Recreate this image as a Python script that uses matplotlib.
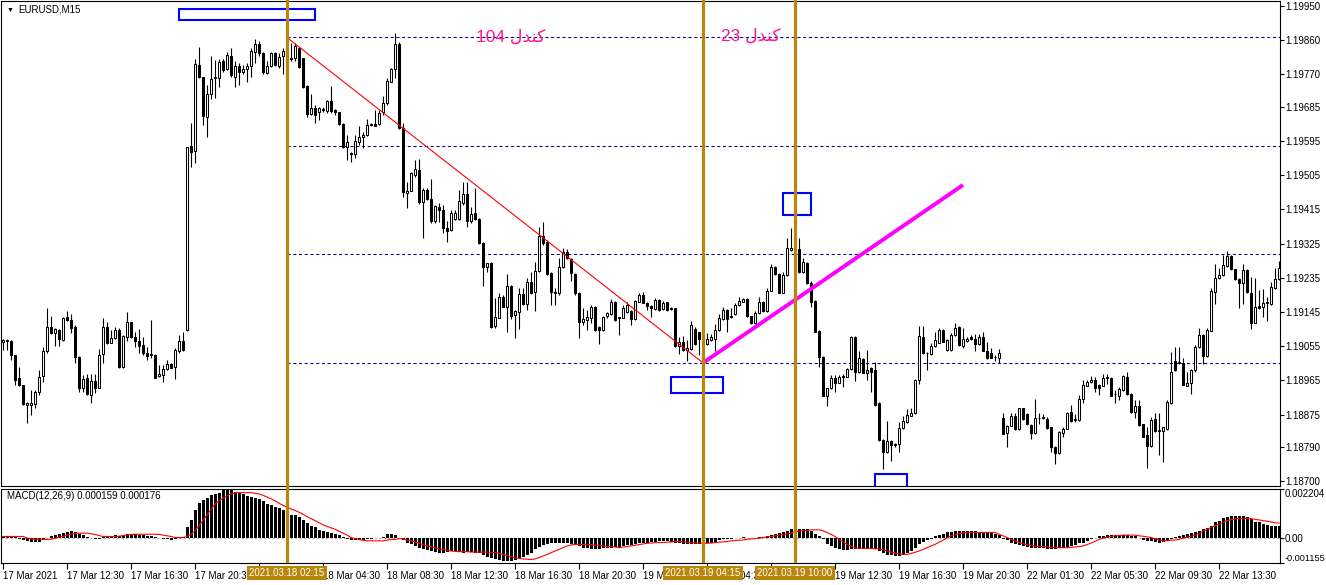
import matplotlib
matplotlib.use("Agg")
import matplotlib.pyplot as plt
import matplotlib.transforms as mtransforms
from matplotlib.patches import Rectangle
import numpy as np

plt.rcParams['font.family'] = ['Liberation Sans', 'DejaVu Sans']

POINT = 1e-5  # prices and MACD values below are stored in points

# EURUSD M15, one value per bar (17 Mar 08:30 .. 22 Mar 17:15)
opens = [
    119067, 119069, 119069, 119032, 118972, 118954, 118900, 118899, 118902, 118933,
    118977, 119041, 119105, 119089, 119098, 119071, 119131, 119125, 119105, 119027,
    118944, 118970, 118927, 118963, 118946, 119034, 119105, 119064, 119076, 119098,
    119000, 119080, 119118, 119080, 119069, 119058, 119038, 119034, 119032, 118976,
    118979, 118995, 119008, 118999, 119043, 119069, 119098, 119581, 119569, 119795,
    119762, 119659, 119718, 119760, 119760, 119804, 119783, 119818, 119762, 119791,
    119777, 119783, 119791, 119828, 119849, 119826, 119773, 119792, 119826, 119793,
    119817, 119832, 119812, 119812, 119840, 119812, 119740, 119667, 119681, 119670,
    119676, 119674, 119700, 119676, 119670, 119639, 119580, 119561, 119560, 119593,
    119604, 119611, 119637, 119640, 119639, 119670, 119694, 119751, 119783, 119849,
    119628, 119457, 119464, 119504, 119519, 119435, 119466, 119442, 119383, 119422,
    119413, 119367, 119361, 119390, 119390, 119431, 119454, 119383, 119404, 119390,
    119327, 119264, 119273, 119108, 119130, 119185, 119159, 119212, 119137, 119144,
    119191, 119166, 119225, 119197, 119253, 119345, 119330, 119247, 119198, 119194,
    119262, 119302, 119283, 119244, 119196, 119119, 119124, 119128, 119157, 119106,
    119098, 119133, 119139, 119172, 119128, 119130, 119144, 119148, 119126, 119172,
    119190, 119168, 119160, 119152, 119176, 119152, 119170, 119152, 119154, 119056,
    119065, 119045, 119047, 119101, 119091, 119074, 119061, 119071, 119073, 119098,
    119127, 119150, 119131, 119139, 119162, 119172, 119178, 119133, 119115, 119141,
    119172, 119148, 119201, 119262, 119245, 119196, 119242, 119308, 119312, 119310,
    119249, 119273, 119220, 119174, 119095, 119027, 118925, 118944, 118970, 118959,
    118975, 118975, 118994, 119080, 118986, 119020, 118985, 118997, 118992, 118906,
    118808, 118776, 118806, 118795, 118797, 118839, 118855, 118872, 118878, 118966,
    119078, 119036, 119034, 119055, 119064, 119098, 119045, 119045, 119084, 119105,
    119055, 119069, 119078, 119074, 119060, 119080, 119043, 119036, 119027, 119025,
    118867, 118827, 118846, 118871, 118836, 118891, 118876, 118847, 118827, 118865,
    118865, 118862, 118841, 118789, 118773, 118827, 118838, 118881, 118860, 118860,
    118917, 118951, 118961, 118967, 118953, 118951, 118970, 118972, 118929, 118925,
    118939, 118975, 118929, 118882, 118898, 118849, 118821, 118792, 118863, 118832,
    118832, 118836, 118906, 119016, 119010, 119011, 118951, 118957, 118992, 119052,
    119084, 119029, 119096, 119198, 119233, 119242, 119266, 119291, 119257, 119231,
    119220, 119255, 119194, 119117, 119161, 119157, 119168, 119166, 119207, 119231,
]
highs = [
    119074, 119074, 119071, 119032, 119001, 118954, 118908, 118940, 118940, 118992,
    119054, 119156, 119133, 119102, 119100, 119132, 119148, 119139, 119111, 119029,
    118979, 118981, 118981, 118981, 119048, 119130, 119118, 119098, 119106, 119104,
    119084, 119144, 119119, 119091, 119100, 119080, 119054, 119124, 119034, 119005,
    119005, 119019, 119010, 119051, 119084, 119093, 119580, 119641, 119810, 119841,
    119764, 119742, 119817, 119808, 119811, 119811, 119828, 119840, 119804, 119799,
    119795, 119799, 119840, 119863, 119859, 119828, 119805, 119830, 119830, 119825,
    119840, 119868, 119852, 119852, 119843, 119814, 119742, 119718, 119690, 119683,
    119683, 119703, 119740, 119680, 119672, 119641, 119611, 119566, 119611, 119633,
    119619, 119652, 119641, 119676, 119676, 119713, 119760, 119788, 119878, 119855,
    119641, 119488, 119514, 119545, 119547, 119470, 119472, 119495, 119426, 119431,
    119426, 119383, 119413, 119413, 119466, 119488, 119488, 119422, 119470, 119392,
    119330, 119275, 119276, 119181, 119194, 119190, 119244, 119215, 119150, 119207,
    119207, 119233, 119251, 119276, 119369, 119381, 119333, 119250, 119207, 119286,
    119312, 119311, 119286, 119247, 119198, 119155, 119150, 119163, 119160, 119108,
    119133, 119145, 119179, 119175, 119132, 119163, 119172, 119150, 119176, 119194,
    119198, 119170, 119162, 119181, 119178, 119174, 119172, 119158, 119156, 119080,
    119082, 119071, 119121, 119106, 119093, 119080, 119089, 119087, 119113, 119140,
    119157, 119152, 119156, 119168, 119183, 119181, 119181, 119135, 119148, 119183,
    119174, 119207, 119271, 119265, 119247, 119251, 119339, 119365, 119335, 119339,
    119286, 119276, 119227, 119176, 119097, 119029, 118946, 118979, 118979, 118979,
    118981, 118997, 119082, 119082, 119041, 119023, 119045, 119000, 119014, 118908,
    118810, 118858, 118808, 118800, 118856, 118870, 118890, 118891, 118968, 119108,
    119108, 119040, 119064, 119093, 119104, 119100, 119073, 119089, 119115, 119108,
    119102, 119078, 119084, 119088, 119088, 119091, 119065, 119049, 119031, 119047,
    118878, 118848, 118878, 118878, 118893, 118893, 118878, 118849, 118915, 118880,
    118876, 118869, 118843, 118791, 118832, 118843, 118882, 118900, 118876, 118926,
    118966, 118966, 118976, 118975, 118955, 118981, 118981, 118975, 118939, 118948,
    118979, 118988, 118931, 118913, 118913, 118851, 118843, 118869, 118878, 118878,
    118843, 118913, 119040, 119052, 119052, 119023, 118988, 118996, 119058, 119102,
    119086, 119102, 119207, 119271, 119260, 119295, 119304, 119295, 119259, 119233,
    119271, 119258, 119238, 119233, 119203, 119205, 119185, 119225, 119260, 119280,
]
lows = [
    119045, 119045, 119019, 118953, 118951, 118900, 118854, 118874, 118891, 118927,
    118960, 119036, 119086, 119056, 119056, 119069, 119121, 119089, 119010, 118934,
    118935, 118927, 118905, 118931, 118944, 119010, 119060, 119062, 119074, 118998,
    118998, 119069, 119077, 119054, 119036, 119032, 119019, 119023, 118970, 118974,
    118960, 118992, 118997, 118969, 119036, 119042, 119095, 119525, 119536, 119760,
    119637, 119604, 119705, 119707, 119738, 119777, 119782, 119764, 119738, 119742,
    119770, 119749, 119762, 119799, 119819, 119770, 119770, 119790, 119792, 119786,
    119771, 119825, 119804, 119805, 119786, 119733, 119659, 119663, 119643, 119650,
    119670, 119668, 119668, 119663, 119637, 119577, 119545, 119540, 119549, 119583,
    119577, 119609, 119635, 119633, 119637, 119663, 119690, 119749, 119760, 119626,
    119448, 119419, 119462, 119500, 119430, 119340, 119440, 119378, 119380, 119381,
    119352, 119330, 119358, 119388, 119388, 119426, 119369, 119380, 119388, 119325,
    119212, 119249, 119102, 119104, 119128, 119157, 119093, 119126, 119076, 119100,
    119163, 119150, 119192, 119148, 119250, 119322, 119242, 119162, 119163, 119190,
    119260, 119283, 119226, 119190, 119077, 119111, 119098, 119115, 119095, 119060,
    119096, 119130, 119137, 119121, 119084, 119128, 119142, 119111, 119124, 119170,
    119168, 119150, 119131, 119150, 119148, 119150, 119148, 119150, 119054, 119034,
    119043, 119017, 119045, 119059, 119032, 119013, 119058, 119068, 119041, 119096,
    119125, 119093, 119129, 119137, 119160, 119170, 119131, 119113, 119113, 119139,
    119146, 119146, 119199, 119243, 119194, 119194, 119240, 119305, 119290, 119247,
    119247, 119218, 119157, 119091, 119001, 118923, 118898, 118942, 118933, 118957,
    118948, 118973, 118992, 118963, 118984, 118983, 118966, 118934, 118897, 118806,
    118731, 118774, 118754, 118790, 118776, 118837, 118853, 118870, 118876, 118956,
    119034, 118992, 119032, 119053, 119062, 119065, 119041, 119043, 119082, 119056,
    119049, 119066, 119070, 119043, 119058, 119041, 119021, 119023, 119017, 119010,
    118823, 118789, 118844, 118834, 118834, 118861, 118847, 118810, 118825, 118850,
    118863, 118838, 118777, 118745, 118771, 118817, 118836, 118856, 118856, 118858,
    118906, 118949, 118959, 118933, 118926, 118949, 118955, 118923, 118906, 118913,
    118937, 118926, 118879, 118867, 118845, 118815, 118735, 118790, 118830, 118768,
    118751, 118834, 118904, 118990, 119008, 118952, 118949, 118929, 118988, 119050,
    119008, 119027, 119094, 119167, 119231, 119240, 119264, 119255, 119229, 119154,
    119167, 119196, 119099, 119115, 119152, 119131, 119122, 119164, 119205, 119229,
]
closes = [
    119071, 119070, 119032, 118966, 118953, 118902, 118906, 118906, 118935, 118975,
    119041, 119106, 119089, 119100, 119073, 119130, 119124, 119102, 119027, 118944,
    118969, 118928, 118963, 118944, 119032, 119106, 119062, 119076, 119098, 119001,
    119082, 119118, 119080, 119069, 119056, 119036, 119030, 119032, 118972, 118982,
    118995, 119007, 118998, 119045, 119069, 119045, 119578, 119567, 119797, 119762,
    119661, 119718, 119757, 119762, 119802, 119782, 119821, 119767, 119791, 119775,
    119784, 119793, 119832, 119849, 119825, 119775, 119793, 119826, 119795, 119815,
    119832, 119845, 119810, 119845, 119789, 119738, 119666, 119681, 119663, 119681,
    119678, 119700, 119674, 119670, 119639, 119580, 119593, 119564, 119595, 119604,
    119611, 119637, 119639, 119635, 119668, 119694, 119753, 119784, 119849, 119628,
    119460, 119463, 119510, 119521, 119433, 119466, 119442, 119383, 119424, 119413,
    119365, 119359, 119406, 119404, 119437, 119454, 119384, 119403, 119390, 119327,
    119264, 119273, 119106, 119131, 119183, 119159, 119212, 119133, 119148, 119191,
    119165, 119223, 119194, 119253, 119345, 119326, 119244, 119198, 119194, 119262,
    119302, 119286, 119247, 119194, 119118, 119126, 119131, 119159, 119098, 119098,
    119131, 119141, 119172, 119124, 119132, 119156, 119163, 119126, 119174, 119190,
    119169, 119160, 119154, 119176, 119150, 119169, 119150, 119154, 119055, 119065,
    119045, 119049, 119110, 119061, 119074, 119060, 119074, 119078, 119098, 119128,
    119150, 119127, 119135, 119162, 119175, 119178, 119133, 119115, 119141, 119170,
    119148, 119200, 119262, 119245, 119196, 119242, 119312, 119312, 119315, 119249,
    119277, 119220, 119172, 119093, 119027, 118925, 118944, 118970, 118957, 118975,
    118977, 118994, 119080, 118986, 119023, 118985, 118992, 118988, 118899, 118808,
    118776, 118806, 118795, 118798, 118839, 118858, 118874, 118880, 118966, 119082,
    119036, 119038, 119055, 119070, 119098, 119067, 119071, 119084, 119102, 119058,
    119075, 119074, 119073, 119060, 119080, 119043, 119023, 119025, 119027, 119036,
    118825, 118846, 118871, 118836, 118891, 118863, 118849, 118827, 118865, 118867,
    118869, 118840, 118789, 118773, 118828, 118838, 118880, 118858, 118862, 118917,
    118953, 118961, 118966, 118944, 118946, 118972, 118973, 118925, 118929, 118942,
    118976, 118928, 118881, 118898, 118847, 118817, 118792, 118860, 118832, 118834,
    118841, 118909, 118988, 118992, 119014, 118954, 118957, 118992, 119052, 119084,
    119029, 119097, 119201, 119233, 119242, 119269, 119291, 119257, 119231, 119220,
    119255, 119198, 119115, 119159, 119154, 119169, 119172, 119211, 119231, 119260,
]

# MACD(12,26,9): main (histogram) and signal, in points
macd_main = [
    8, 8, 6, 2, -5, -10, -15, -20, -22, -20,
    -12, -3, 8, 12, 16, 22, 26, 30, 27, 18,
    10, 4, -4, -8, -6, 2, 6, 8, 10, 8,
    10, 14, 14, 14, 13, 10, 7, 5, 2, -3,
    -6, -8, -9, -6, -2, 1, 46, 80, 126, 158,
    172, 181, 192, 199, 204, 214, 218, 216, 207, 202,
    196, 189, 184, 179, 173, 164, 153, 146, 138, 133,
    127, 118, 103, 103, 92, 80, 64, 54, 46, 35,
    31, 23, 20, 15, 11, 2, -6, -10, -12, -12,
    -10, -8, -6, -4, -2, 4, 15, 18, 10, -2,
    -11, -23, -31, -38, -46, -54, -57, -61, -66, -72,
    -72, -66, -61, -61, -66, -69, -66, -66, -69, -72,
    -81, -87, -92, -97, -100, -106, -108, -106, -100, -92,
    -87, -77, -69, -54, -41, -35, -31, -26, -26, -23,
    -23, -26, -31, -34, -38, -46, -49, -51, -51, -51,
    -49, -46, -46, -43, -41, -38, -35, -34, -31, -26,
    -23, -23, -20, -18, -15, -15, -15, -18, -23, -26,
    -28, -31, -31, -31, -31, -29, -26, -23, -18, -12,
    -8, -6, -5, -3, -2, 2, -2, -3, 0, 3,
    2, 8, 12, 18, 20, 23, 31, 38, 41, 41,
    38, 38, 31, 15, 5, -8, -31, -38, -46, -54,
    -57, -57, -54, -51, -54, -54, -54, -54, -54, -61,
    -69, -77, -81, -84, -84, -81, -72, -61, -46, -31,
    -18, -11, -5, 5, 11, 17, 23, 26, 28, 28,
    28, 28, 28, 28, 26, 26, 23, 20, 15, 11,
    -5, -12, -23, -28, -34, -38, -41, -46, -46, -48,
    -49, -51, -54, -54, -49, -46, -43, -38, -34, -26,
    -23, -15, -8, -3, 5, 8, 12, 11, 11, 12,
    12, 11, 8, 5, -3, -11, -15, -15, -20, -23,
    -20, -15, -8, 2, 8, 11, 15, 20, 23, 31,
    38, 43, 51, 69, 77, 87, 95, 100, 100, 100,
    97, 92, 84, 72, 69, 61, 58, 54, 54, 54,
]
macd_signal = [
    5, 5, 5, 5, 5, 5, -2, -5, -8, -8,
    -8, -8, -8, -3, 2, 5, 11, 15, 18, 20,
    20, 20, 17, 14, 9, 5, 5, 5, 5, 6,
    9, 12, 14, 15, 15, 15, 15, 15, 15, 14,
    11, 8, 5, 0, 0, 0, 5, 15, 31, 54,
    77, 103, 127, 153, 167, 179, 189, 199, 202, 204,
    204, 204, 204, 201, 198, 192, 184, 176, 167, 156,
    146, 138, 130, 123, 115, 106, 95, 86, 77, 67,
    58, 51, 44, 38, 29, 20, 11, 0, -5, -9,
    -12, -15, -15, -15, -15, -15, -12, -9, -8, -5,
    -6, -11, -15, -20, -26, -32, -38, -41, -46, -51,
    -54, -57, -61, -63, -64, -64, -64, -66, -66, -66,
    -66, -66, -67, -69, -72, -77, -81, -87, -92, -95,
    -97, -98, -100, -97, -91, -84, -77, -69, -61, -54,
    -46, -38, -34, -31, -31, -31, -32, -32, -34, -35,
    -38, -40, -41, -43, -46, -43, -41, -38, -35, -32,
    -29, -26, -25, -23, -23, -23, -21, -20, -18, -18,
    -20, -21, -23, -25, -25, -26, -26, -25, -23, -21,
    -20, -18, -15, -14, -12, -11, -8, -6, -5, -3,
    0, 3, 5, 8, 11, 14, 17, 20, 28, 29,
    31, 32, 35, 35, 35, 31, 23, 15, 5, -8,
    -20, -31, -38, -46, -48, -49, -49, -49, -51, -52,
    -55, -61, -66, -71, -74, -75, -77, -72, -67, -61,
    -54, -46, -38, -31, -21, -12, -2, 8, 14, 18,
    21, 23, 23, 23, 23, 23, 23, 23, 23, 15,
    8, 0, -8, -15, -23, -28, -32, -35, -38, -40,
    -41, -43, -44, -46, -46, -46, -46, -44, -43, -41,
    -38, -32, -25, -17, -8, -3, 2, 5, 8, 9,
    11, 11, 11, 11, 8, 6, 3, 0, -5, -11,
    -15, -14, -12, -11, -8, -3, 2, 6, 11, 20,
    28, 37, 46, 54, 61, 69, 77, 81, 84, 87,
    87, 87, 86, 83, 80, 77, 74, 71, 67, 66,
]

time_tick_bars = [0, 16, 32, 48, 64, 80, 96, 112, 128, 144,
                  160, 176, 192, 208, 224, 240, 256, 272, 288, 304]
time_tick_labels = ['17 Mar 2021', '17 Mar 12:30', '17 Mar 16:30', '17 Mar 20:30',
                    '18 Mar 00:30', '18 Mar 04:30', '18 Mar 08:30', '18 Mar 12:30',
                    '18 Mar 16:30', '18 Mar 20:30', '19 Mar 00:30', '19 Mar 04:30',
                    '19 Mar 08:30', '19 Mar 12:30', '19 Mar 16:30', '19 Mar 20:30',
                    '22 Mar 01:30', '22 Mar 05:30', '22 Mar 09:30', '22 Mar 13:30']
price_ticks = [1.19950, 1.19860, 1.19770, 1.19685, 1.19595, 1.19505, 1.19415, 1.19325,
               1.19235, 1.19145, 1.19055, 1.18965, 1.18875, 1.18790, 1.18700]
macd_ticks = [0.002204, 0.0, -0.001155]
macd_tick_labels = ['0.002204', '0.00', '-0.001155']

# objects drawn on the chart
level_prices = [1.19867, 1.19582, 1.19297, 1.19011]
level_start_bar = 71
vline_bars = [71, 175, 198]
vline_labels = ['2021.03.18 02:15', '2021.03.19 04:15', '2021.03.19 10:00']
red_trend = ([71, 175], [1.19867, 1.19011])
magenta_trend = ([175, 240], [1.19011, 1.19479])
# rectangles: bar from, bar to, price low, price high
box_bar0 = [44, 167, 195, 218]
box_bar1 = [78, 180, 202, 226]
box_low = [1.19913, 1.18932, 1.19400, 1.18650]
box_high = [1.19942, 1.18974, 1.19458, 1.18718]
# candle counts written between the vertical lines (Persian "کندل", shaped for display)
label_texts = ['104 \ufedd\ufeaa\ufee8\ufb90', '23 \ufedd\ufeaa\ufee8\ufb90']
label_bars = [127, 187]
label_prices = [1.19867, 1.19870]

W, H = 1326, 585
GOLD = '#B8860B'

fig = plt.figure(figsize=(W / 100, H / 100), dpi=100)
ax = fig.add_axes([1 / W, 1 - 486 / H, 1279 / W, 485 / H])
axm = fig.add_axes([1 / W, 1 - 563 / H, 1279 / W, 74 / H])

o = np.array(opens) * POINT
h = np.array(highs) * POINT
l = np.array(lows) * POINT
c = np.array(closes) * POINT
x = np.arange(len(c))
up = c >= o

# candles
ax.vlines(x, l, h, color='black', lw=0.8, zorder=3)
ax.bar(x, np.abs(c - o), bottom=np.minimum(o, c), width=0.55,
       color=np.where(up, 'white', 'black'), edgecolor='black', lw=0.75, zorder=4)

xmin, xmax = -0.5, 319.25
ax.set_xlim(xmin, xmax)
ax.set_ylim(1.18687, 1.19963)

ax.hlines(level_prices, level_start_bar, xmax, colors='#000080',
          linestyles=(0, (3, 2.5)), lw=0.75, zorder=2)
ax.plot(*red_trend, color='red', lw=0.8, zorder=5)
ax.plot(*magenta_trend, color='#FF00FF', lw=2.8, zorder=5, solid_capstyle='butt')
for b0, b1, lo, hi in zip(box_bar0, box_bar1, box_low, box_high):
    ax.add_patch(Rectangle((b0, lo), b1 - b0, hi - lo, fill=False,
                           ec='#0000FF', lw=1.5, zorder=6))
for t, b, p in zip(label_texts, label_bars, label_prices):
    ax.text(b, p, t, color='#FF1493', fontsize=12.5, ha='center', va='center', zorder=6)

for b in vline_bars:
    ax.axvline(b, color=GOLD, lw=2.3, zorder=7, ymin=-0.008, clip_on=False)
    axm.axvline(b, color=GOLD, lw=2.3, zorder=7)

ax.yaxis.tick_right()
ax.set_yticks(price_ticks)
ax.set_yticklabels(['%.5f' % p for p in price_ticks])
ax.tick_params(axis='y', length=3, width=0.8, labelsize=7, pad=0.5)
ax.set_xticks([])

# MACD panel
hist = np.array(macd_main) * POINT
sig = np.array(macd_signal) * POINT
axm.bar(x, hist, width=0.75, color='black', zorder=3, antialiased=False)
axm.plot(x, sig, color='red', lw=0.8, zorder=4)
axm.axhline(0, color='#B0B0B0', lw=0.8, ls=(0, (2, 2)), zorder=2)
axm.set_xlim(xmin, xmax)
axm.set_ylim(-0.001155, 0.002204)
axm.yaxis.tick_right()
axm.set_yticks(macd_ticks)
axm.set_yticklabels(macd_tick_labels)
axm.tick_params(axis='y', length=3, width=0.8, labelsize=7, pad=0.5)
tl = axm.get_yticklabels()
tl[0].set_va('top')
tl[2].set_va('bottom')
tl[2].set_fontsize(6.6)

axm.set_xticks(time_tick_bars)
axm.set_xticklabels(time_tick_labels)
axm.tick_params(axis='x', length=4, width=0.8, labelsize=7, pad=2)
for lbl in axm.get_xticklabels():
    lbl.set_ha('left')

for a in (ax, axm):
    for s in a.spines.values():
        s.set_linewidth(0.8)

# date boxes under the vertical lines
trans = mtransforms.blended_transform_factory(axm.transData, axm.transAxes)
for b, t in zip(vline_bars, vline_labels):
    axm.text(b, -0.135, t, transform=trans, ha='center', va='center', fontsize=7,
             color='white', zorder=10,
             bbox=dict(boxstyle='square,pad=0.2', fc=GOLD, ec='none'))

fig.text(7 / W, 1 - 10 / H, '\u25BC', fontsize=5, va='center', ha='left')
fig.text(18 / W, 1 - 10 / H, 'EURUSD,M15', fontsize=7, va='center', ha='left')
fig.text(7 / W, 1 - 496 / H, 'MACD(12,26,9) 0.000159 0.000176', fontsize=7,
         va='center', ha='left')

fig.savefig('out.png', dpi=100)
